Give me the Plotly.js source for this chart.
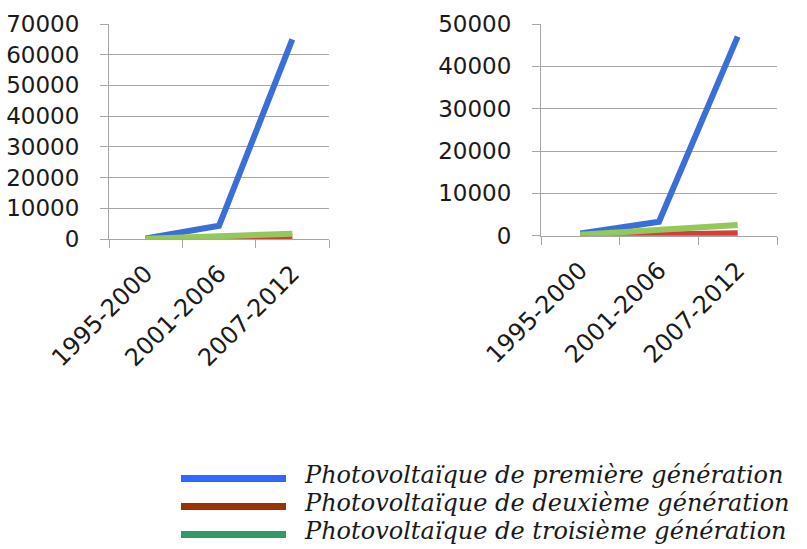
<!DOCTYPE html>
<html>
<head>
<meta charset="utf-8">
<script src="https://cdn.plot.ly/plotly-3.0.1.min.js"></script>
<style>html,body{margin:0;padding:0;background:#fff;}#chart{width:807px;height:549px;}</style>
</head>
<body>
<div id="chart"></div>
<script>
// ---- data ----
const categories = ["1995-2000", "2001-2006", "2007-2012"];
const seriesNames = [
  "Photovoltaïque de première génération",
  "Photovoltaïque de deuxième génération",
  "Photovoltaïque de troisième génération"
];
const leftFirst  = [200, 4300, 65000];
const leftSecond = [0, 100, 800];
const leftThird  = [100, 900, 1700];
const rightFirst  = [500, 3300, 47000];
const rightSecond = [0, 250, 600];
const rightThird  = [250, 1400, 2500];
const leftTicks = [0, 10000, 20000, 30000, 40000, 50000, 60000, 70000];
const rightTicks = [0, 10000, 20000, 30000, 40000, 50000];

// ---- style ----
const lineColors = ["#3a6fd8", "#d63c3c", "#92c95a"];
const legendColors = ["#3366ff", "#993300", "#339966"];
const W = 807, H = 549;
const grid = "#a6a6a6";
const yTickFont = {family: "DejaVu Sans", size: 23, color: "#1a1a1a"};
const xTickFont = {family: "DejaVu Sans", size: 24, color: "#1a1a1a"};

function tr(y, i, xa, ya) {
  return {x: categories, y: y, type: "scatter", mode: "lines", xaxis: xa, yaxis: ya,
    line: {color: lineColors[i], width: 6}, showlegend: false, hoverinfo: "skip"};
}
const data = [
  tr(leftFirst, 0, "x", "y"), tr(leftSecond, 1, "x", "y"), tr(leftThird, 2, "x", "y"),
  tr(rightFirst, 0, "x2", "y2"), tr(rightSecond, 1, "x2", "y2"), tr(rightThird, 2, "x2", "y2")
];

function xax(d1, d2, anchor) {
  return {domain: [d1 / W, d2 / W], anchor: anchor, type: "category", range: [-0.5, 2.5],
    tickson: "boundaries", ticks: "outside", ticklen: 8, tickcolor: grid, tickwidth: 1,
    showgrid: false, showline: true, linecolor: grid, linewidth: 1, zeroline: false,
    tickangle: -45, tickfont: xTickFont, ticklabelstandoff: 10, fixedrange: true};
}
function yax(top, bottom, max, ticks, anchor) {
  return {domain: [(H - bottom) / H, (H - top) / H], anchor: anchor, range: [0, max],
    tickvals: ticks, ticktext: ticks.map(String),
    ticks: "outside", ticklen: 8, tickcolor: grid, tickwidth: 1,
    showgrid: true, gridcolor: grid, gridwidth: 1, zeroline: false,
    showline: true, linecolor: grid, linewidth: 1,
    tickfont: yTickFont, ticklabelstandoff: 16, fixedrange: true};
}

const shapes = [], annotations = [];
const legendY = [478.5, 506.5, 534.5];
for (let i = 0; i < 3; i++) {
  shapes.push({type: "line", xref: "paper", yref: "paper",
    x0: 181 / W, x1: 286 / W, y0: 1 - legendY[i] / H, y1: 1 - legendY[i] / H,
    line: {color: legendColors[i], width: 7}});
  annotations.push({xref: "paper", yref: "paper", x: 302 / W, y: 1 - (legendY[i] - 4) / H,
    xanchor: "left", yanchor: "middle", showarrow: false, text: "<i>" + seriesNames[i] + "</i>",
    font: {family: "DejaVu Serif", size: 24, color: "#1a1a1a"}});
}

const layout = {
  width: W, height: H, margin: {l: 0, r: 0, t: 0, b: 0},
  paper_bgcolor: "#fff", plot_bgcolor: "#fff", showlegend: false,
  xaxis: xax(109, 329, "y"), yaxis: yax(24, 239, 70000, leftTicks, "x"),
  xaxis2: xax(541, 777, "y2"), yaxis2: yax(24, 235.7, 50000, rightTicks, "x2"),
  shapes: shapes, annotations: annotations
};
Plotly.newPlot("chart", data, layout, {staticPlot: true, displayModeBar: false});
</script>
</body>
</html>
